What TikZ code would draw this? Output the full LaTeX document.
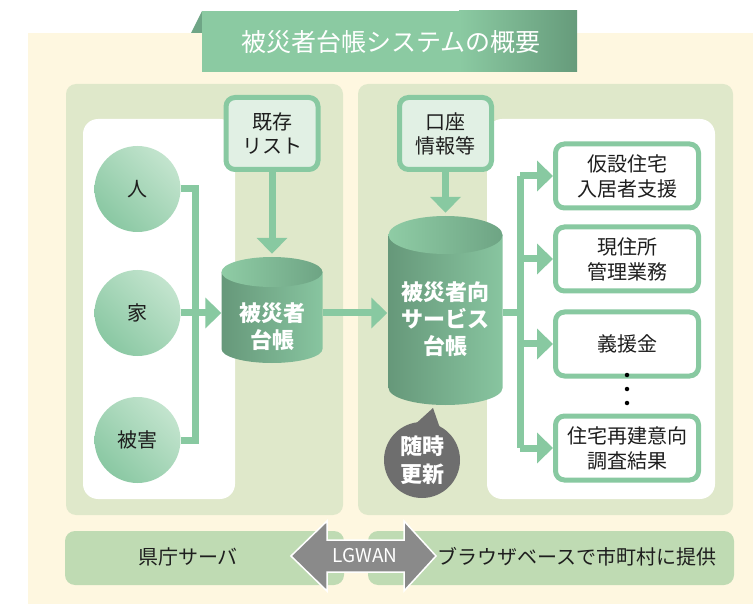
\documentclass[tikz,border=0pt]{standalone}
\usepackage{fontspec}
\setmainfont{Noto Sans CJK JP}
\usetikzlibrary{arrows.meta,shadings}
\definecolor{cream}{HTML}{FEF7E0}
\definecolor{panel}{HTML}{DFE8CA}
\definecolor{lgreen}{HTML}{88C9A1}
\definecolor{boxfill}{HTML}{E1F0E4}
\definecolor{cyldark}{HTML}{66987A}
\definecolor{cyllight}{HTML}{88C5A0}
\definecolor{cyltop}{HTML}{8FCCA5}
\definecolor{cyltopdark}{HTML}{6EA484}
\definecolor{circlight}{HTML}{CFEAD7}
\definecolor{circdark}{HTML}{7EC29A}
\definecolor{circmid}{HTML}{A6D6B8}
\definecolor{barg}{HTML}{BFDBB3}
\definecolor{tabg}{HTML}{8BCAA2}
\definecolor{tabdark}{HTML}{669B7B}
\definecolor{tabfold}{HTML}{6FA586}
\definecolor{greyarr}{HTML}{8A8A8A}
\definecolor{zuig}{HTML}{6E6E6E}
\definecolor{txt}{HTML}{1E1E1E}
\newcommand\mycyl[6]{%
  \shade[left color=cyldark, right color=cyllight]
    (#1-#4,#2) -- (#1-#4,#3) arc[start angle=180, end angle=0, x radius=#4, y radius=#6] -- (#1+#4,#2) -- cycle;
  \shade[left color=cyltop, middle color=cyltop, right color=cyltopdark] (#1,#2) ellipse[x radius=#4, y radius=#5];
}
\begin{document}
\begin{tikzpicture}[x=1pt,y=-1pt,
  gline/.style={draw=lgreen, line width=7pt, line join=miter},
  garrow/.style={gline, -{Triangle[length=16pt,width=30pt]}},
  lbox/.style={draw=lgreen, line width=5pt, fill=boxfill, rounded corners=9pt, minimum width=92pt, minimum height=72pt, align=center, text=txt, font=\fontsize{20}{24}\selectfont, inner sep=0pt},
  wbox/.style={draw=lgreen, line width=5pt, fill=white, rounded corners=9pt, minimum width=143pt, minimum height=64pt, align=center, text=txt, font=\fontsize{20}{25}\selectfont, inner sep=0pt},
  circ/.style={circle, minimum size=86pt, inner sep=0pt, text=txt, font=\fontsize{20}{24}\selectfont},
  cylnode/.style={draw=none, inner sep=0pt},
  cyltext/.style={align=center, text=white, font=\bfseries\fontsize{22}{27}\selectfont, inner sep=0pt},
  dotn/.style={circle, fill=black, minimum size=4.5pt, inner sep=0pt},
  plain/.style={text=txt, font=\fontsize{20}{24}\selectfont, inner sep=0pt}
]
\useasboundingbox (0,0) rectangle (753,604);
% background
\fill[white] (0,0) rectangle (753,604);
\fill[cream] (28,33) rectangle (753,604);
% title tab
\fill[tabfold] (191,33) -- (202,11) -- (202,33) -- cycle;
\fill[tabg] (202,11) rectangle (460,72);
\shade[left color=tabg, right color=tabdark] (459,11) rectangle (577,72);
\node[text=white, font=\fontsize{25}{30}\selectfont, inner sep=0pt] (title) at (391,42) {被災者台帳システムの概要};
% panels
\fill[panel, rounded corners=10pt] (66,84) rectangle (343,515);
\fill[panel, rounded corners=10pt] (358,84) rectangle (733,515);
\fill[white, rounded corners=15pt] (83,119) rectangle (235,499);
\fill[white, rounded corners=15pt] (487,119) rectangle (715,499);
% cylinders
\mycyl{272}{272}{349}{50.5}{15}{14}
\mycyl{445.5}{235}{388}{57}{19}{17}
% circles: light towards the upper right, drawn in a plain (unflipped) frame
\foreach \cy in {189,313,440}{
  \begin{scope}[shift={(137.5,\cy)}, x=1pt, y=1pt]
    \shade[lower left=circdark, upper right=circlight, lower right=circmid, upper left=circmid] (0,0) circle[radius=43];
  \end{scope}
}
% nodes left
\node[circ] (c1) at (137.5,189) {人};
\node[circ] (c2) at (137.5,313) {家};
\node[circ] (c3) at (137.5,440) {被害};
\coordinate (jL) at (195,313);
\node[lbox] (kizon) at (272,133.5) {既存\\リスト};
\node[cylnode, minimum width=101pt, minimum height=112pt] (cyl1) at (272,313) {};
\node[cyltext] (cyl1t) at (272,327) {被災者\\台帳};
% nodes right
\node[lbox] (koza) at (445.5,133.5) {口座\\情報等};
\node[cylnode, minimum width=114pt, minimum height=196pt] (cyl2) at (445.5,313) {};
\node[cyltext] (cyl2t) at (445.5,319) {被災者向\\サービス\\台帳};
\coordinate (jR) at (520,313);
\node[wbox] (b1) at (627,176) {仮設住宅\\入居者支援};
\node[wbox] (b2) at (627,259) {現住所\\管理業務};
\node[wbox] (b3) at (627,344) {義援金};
\node[wbox] (b4) at (627,448) {住宅再建意向\\調査結果};
\node[dotn] (d1) at (627,375) {};
\node[dotn] (d2) at (627,389) {};
\node[dotn] (d3) at (627,403) {};
% update bubble
\fill[zuig] (411,428) -- (433,408) -- (441,431) -- cycle;
\node[circle, fill=zuig, minimum size=76pt, inner sep=0pt, align=center, text=white, font=\bfseries\fontsize{22}{28}\selectfont] (zuiji) at (422,460) {随時\\更新};
% connectors
\draw[gline] (c1.east) -| (jL);
\draw[gline] (c3.east) -| (jL);
\draw[garrow] (c2.east) -- (cyl1.west);
\draw[garrow, shorten >=3pt] (kizon.south) -- (cyl1.north);
\draw[garrow, shorten >=1pt] (cyl1.east) -- (cyl2.west);
\draw[garrow, shorten >=2pt] (koza.south) -- (cyl2.north);
\draw[gline] (cyl2.east) -- (jR);
\draw[gline] (jR |- b1.west) -- (jR |- b4.west);
\foreach \b in {b1,b2,b3,b4} \draw[garrow] (jR |- \b.west) -- (\b.west);
% bottom bar
\fill[barg, rounded corners=10pt] (65,531) rectangle (344,585);
\fill[barg, rounded corners=10pt] (368,531) rectangle (734,585);
\filldraw[fill=greyarr, draw=white, line width=1.5pt, line join=miter]
  (291,556) -- (327,521) -- (327,540) -- (404,540) -- (404,521) -- (436,556)
  -- (404,591) -- (404,572) -- (327,572) -- (327,591) -- cycle;
\node[text=white, font=\fontsize{19}{22}\selectfont, inner sep=0pt] (lgwan) at (365,556) {LGWAN};
\node[plain] (pref) at (188,557) {県庁サーバ};
\node[plain] (browser) at (577,557) {ブラウザベースで市町村に提供};
\end{tikzpicture}
\end{document}
